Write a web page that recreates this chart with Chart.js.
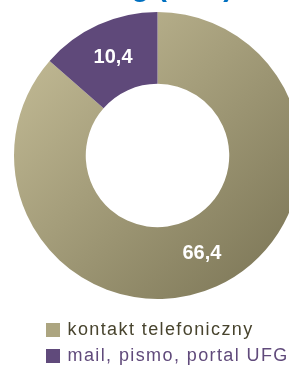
<!DOCTYPE html>
<html>
<head>
<meta charset="utf-8">
<script src="https://cdn.jsdelivr.net/npm/chart.js@4.4.0/dist/chart.umd.min.js"></script>
<style>
  html, body { margin: 0; padding: 0; background: #fff; overflow: hidden; }
  #wrap { position: absolute; left: 0; top: -10px; width: 315px; height: 385px; }
</style>
</head>
<body>
<div id="wrap"><canvas id="myChart"></canvas></div>
<script>
const categories = ['kontakt telefoniczny', 'mail, pismo, portal UFG'];
const values = [66.4, 10.4];
const titleText = 'Kanały kontaktu – ranking (w %)';

const FONT = '"Liberation Sans", Arial, sans-serif';
const OUTER_R = 143.5;
const legendBoxColors = ['#aca580', '#604a7b'];
const legendTextColors = ['#48442e', '#604a7b'];

const fmt = v => v.toFixed(1).replace('.', ',');

function sliceColor(context) {
  if (context.dataIndex === 1) return '#5f497a';
  const area = context.chart.chartArea;
  if (!area) return '#a39d7b';
  const cx = (area.left + area.right) / 2;
  const cy = (area.top + area.bottom) / 2;
  const g = context.chart.ctx.createLinearGradient(cx - OUTER_R, cy - OUTER_R, cx + OUTER_R, cy + OUTER_R);
  g.addColorStop(0, '#c8c09a');
  g.addColorStop(1, '#787253');
  return g;
}

const extras = {
  id: 'extras',
  // legend is clipped to its box by default; let the long label run to the edge
  afterLayout(chart) {
    const lg = chart.legend;
    lg.right = chart.width + 40;
    lg.width = lg.right - lg.left;
  },
  beforeDraw(chart) { chart.ctx.letterSpacing = '1.4px'; },
  beforeDatasetsDraw(chart) { chart.ctx.letterSpacing = '0px'; },
  // white value labels in the middle of each ring segment
  afterDatasetsDraw(chart) {
    const ctx = chart.ctx;
    ctx.save();
    ctx.fillStyle = '#ffffff';
    ctx.font = 'bold 20px ' + FONT;
    ctx.textAlign = 'center';
    ctx.textBaseline = 'middle';
    chart.getDatasetMeta(0).data.forEach((arc, i) => {
      const p = arc.tooltipPosition();
      ctx.fillText(fmt(values[i]), p.x, p.y);
    });
    ctx.restore();
  },
  // title mostly cut off above the picture, like in the original
  afterDraw(chart) {
    const ctx = chart.ctx;
    ctx.save();
    ctx.fillStyle = '#0070c0';
    ctx.font = 'bold 29px ' + FONT;
    ctx.textAlign = 'right';
    ctx.textBaseline = 'alphabetic';
    ctx.fillText(titleText, 233, 6);
    ctx.restore();
  }
};

new Chart(document.getElementById('myChart'), {
  type: 'doughnut',
  data: {
    labels: categories,
    datasets: [{
      data: values,
      backgroundColor: sliceColor,
      borderWidth: 0,
      radius: OUTER_R,
      cutout: '50%',
      clip: false
    }]
  },
  options: {
    responsive: true,
    maintainAspectRatio: false,
    animation: false,
    layout: { padding: { left: 39.5, right: 39.5, top: 8, bottom: 0 } },
    plugins: {
      tooltip: { enabled: false },
      legend: {
        position: 'bottom',
        align: 'start',
        labels: {
          boxWidth: 11,
          boxHeight: 11,
          padding: 8,
          font: { size: 18, family: FONT },
          generateLabels(chart) {
            const items = Chart.overrides.doughnut.plugins.legend.labels.generateLabels(chart);
            return items.map((it, i) => Object.assign(it, {
              fillStyle: legendBoxColors[i],
              strokeStyle: legendBoxColors[i],
              lineWidth: 3,
              fontColor: legendTextColors[i]
            }));
          }
        }
      }
    }
  },
  plugins: [extras]
});
</script>
</body>
</html>
